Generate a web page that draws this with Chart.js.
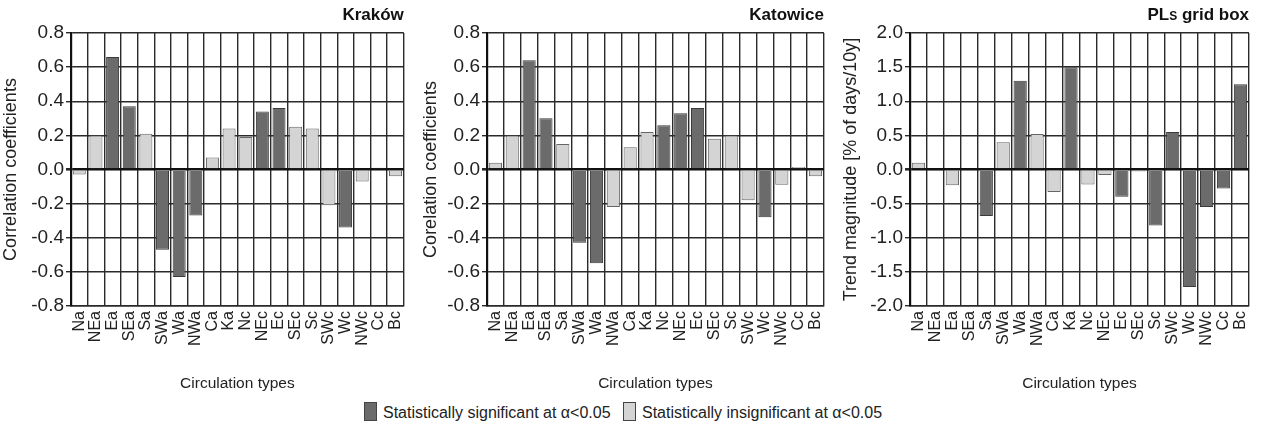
<!DOCTYPE html>
<html>
<head>
<meta charset="utf-8">
<script src="https://cdn.jsdelivr.net/npm/chart.js@4"></script>
<style>
  html, body { margin: 0; padding: 0; background: #fff; width: 1265px; height: 428px; overflow: hidden; font-family: "Liberation Sans", Arial, sans-serif; }
  .panel { position: absolute; top: 0; height: 393px; }
  #legend { position: absolute; top: 402px; left: 0; width: 1246px; text-align: center; font-size: 16px; color: #222; white-space: nowrap; }
  .lg { display: inline-block; vertical-align: middle; }
  .box { width: 11px; height: 17px; border: 1px solid #444; margin-right: 6px; vertical-align: -3px; display: inline-block; }
</style>
</head>
<body>
<div class="panel" style="left:0;width:420px"><canvas id="c1"></canvas></div>
<div class="panel" style="left:420px;width:420px"><canvas id="c2"></canvas></div>
<div class="panel" style="left:840px;width:425px"><canvas id="c3"></canvas></div>
<div id="legend">
  <span class="lg"><span class="box" style="background:#6b6b6b"></span>Statistically significant at α&lt;0.05</span>
  <span class="lg" style="margin-left:8px"><span class="box" style="background:#d4d4d4"></span>Statistically insignificant at α&lt;0.05</span>
</div>
<script>
const categories = ["Na","NEa","Ea","SEa","Sa","SWa","Wa","NWa","Ca","Ka","Nc","NEc","Ec","SEc","Sc","SWc","Wc","NWc","Cc","Bc"];

const krakowValues = [-0.03, 0.20, 0.66, 0.37, 0.21, -0.47, -0.63, -0.27, 0.07, 0.24, 0.19, 0.34, 0.36, 0.25, 0.24, -0.21, -0.34, -0.07, 0.01, -0.04];
const krakowSignificant = [false, false, true, true, false, true, true, true, false, false, false, true, true, false, false, false, true, false, false, false];

const katowiceValues = [0.04, 0.20, 0.64, 0.30, 0.15, -0.43, -0.55, -0.22, 0.13, 0.22, 0.26, 0.33, 0.36, 0.18, 0.20, -0.18, -0.28, -0.09, 0.015, -0.04];
const katowiceSignificant = [false, false, true, true, false, true, true, false, false, false, true, true, true, false, false, false, true, false, false, false];

const plsValues = [0.10, -0.01, -0.23, 0.00, -0.68, 0.40, 1.30, 0.52, -0.33, 1.50, -0.22, -0.08, -0.40, -0.03, -0.82, 0.55, -1.72, -0.55, -0.28, 1.25];
const plsSignificant = [false, true, false, false, true, false, true, false, false, true, false, false, true, false, true, true, true, true, true, true];

const corrTicks = { min: -0.8, max: 0.8, step: 0.2 };
const trendTicks = { min: -2.0, max: 2.0, step: 0.5 };

const DARK = "#6b6b6b", LIGHT = "#d4d4d4", GRID = "#2a2a2a";
const FONT = "'Liberation Sans', Arial, sans-serif";

function titlePlugin(parts) {
  return {
    id: "cornerTitle",
    afterDraw(chart) {
      const ctx = chart.ctx;
      const right = chart.chartArea.right;
      ctx.save();
      ctx.fillStyle = "#111";
      ctx.textBaseline = "alphabetic";
      let widths = parts.map(p => { ctx.font = "bold " + p.size + "px " + FONT; return ctx.measureText(p.text).width; });
      let total = widths.reduce((a, b) => a + b, 0);
      let x = right - total;
      parts.forEach((p, i) => {
        ctx.font = "bold " + p.size + "px " + FONT;
        ctx.fillText(p.text, x, 20);
        x += widths[i];
      });
      ctx.restore();
    }
  };
}

function makeChart(id, values, sig, ticks, yTitle, titleParts, axisWidth) {
  new Chart(document.getElementById(id), {
    type: "bar",
    data: {
      labels: categories,
      datasets: [{
        data: values,
        backgroundColor: sig.map(s => s ? DARK : LIGHT),
        borderColor: sig.map(s => s ? "#3a3a3a" : "#666"),
        borderWidth: 1,
        barPercentage: 0.78,
        categoryPercentage: 1.0
      }]
    },
    options: {
      responsive: true,
      maintainAspectRatio: false,
      animation: false,
      layout: { padding: { top: 33, right: 12, left: 0, bottom: 0 } },
      plugins: { legend: { display: false }, tooltip: { enabled: false } },
      scales: {
        x: {
          offset: true,
          afterFit(scale) { scale.height = 87; },
          grid: { offset: true, color: GRID, lineWidth: 1.4, drawTicks: false },
          border: { color: GRID, width: 1.4 },
          ticks: { minRotation: 90, maxRotation: 90, autoSkip: false, color: "#222", font: { family: FONT, size: 16 }, padding: 5 },
          title: { display: true, text: "Circulation types", color: "#222", font: { family: FONT, size: 15.5 }, padding: { top: 0, bottom: 0 } }
        },
        y: {
          min: ticks.min, max: ticks.max,
          afterFit(scale) { scale.width = axisWidth; },
          ticks: { stepSize: ticks.step, color: "#222", font: { family: FONT, size: 19 }, padding: 2,
                   callback: v => Number(v).toFixed(1) },
          grid: {
            color: c => (Math.abs(c.tick.value) < 1e-9 ? "#111" : GRID),
            lineWidth: c => (Math.abs(c.tick.value) < 1e-9 ? 2.6 : 1.4),
            tickLength: 5, tickColor: GRID
          },
          border: { color: "#111", width: 2.2 },
          title: { display: true, text: yTitle, color: "#222", font: { family: FONT, size: 18 }, padding: { top: 0, bottom: 2 } }
        }
      }
    },
    plugins: [titlePlugin(titleParts)]
  });
}

makeChart("c1", krakowValues, krakowSignificant, corrTicks, "Correlation coefficients", [{ text: "Kraków", size: 17 }], 71);
makeChart("c2", katowiceValues, katowiceSignificant, corrTicks, "Corelation coefficients", [{ text: "Katowice", size: 17 }], 67);
makeChart("c3", plsValues, plsSignificant, trendTicks, "Trend magnitude [% of days/10y]", [{ text: "PL", size: 17 }, { text: "S", size: 12 }, { text: " grid box", size: 17 }], 70);
</script>
</body>
</html>
